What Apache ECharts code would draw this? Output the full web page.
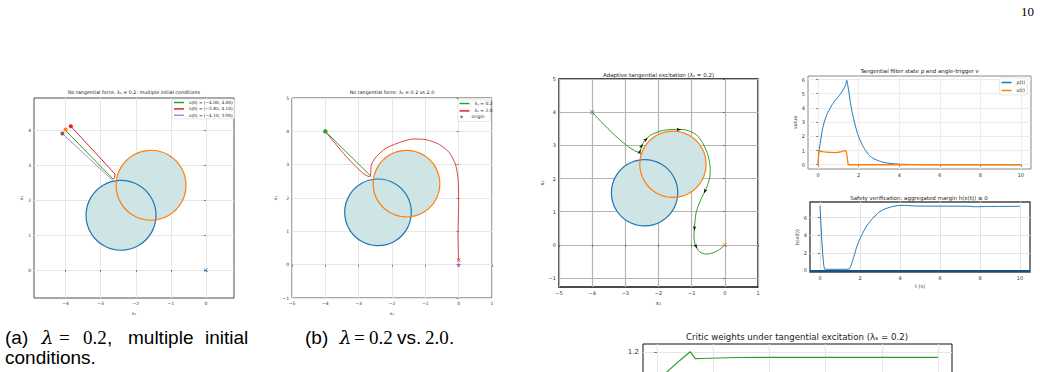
<!DOCTYPE html>
<html><head><meta charset="utf-8">
<script src="https://cdn.jsdelivr.net/npm/echarts@6/dist/echarts.min.js"></script>
<style>html,body{margin:0;padding:0;background:#fff}#c{width:1040px;height:372px}</style>
</head><body><div id="c"></div>
<script>
// ================= DATA =================
// obstacles: [cx, cy, r]
const obstacles = [[-2.42, 1.57, 1.0], [-1.565, 2.43, 1.0]];
const obstacleColors = ['#1f77b4', '#ff7f0e'];

// panel (a)
const aNames = ['x(0) = (−4.00, 4.00)', 'x(0) = (−3.85, 4.10)', 'x(0) = (−4.10, 3.90)'];
const aTrajGreen = [[-4.0, 4.0], [-2.64, 2.6]];
const aTrajRed = [[-3.85, 4.12], [-2.59, 2.75], [-2.6, 2.66], [-2.64, 2.6]];
const aTrajPurple = [[-4.09, 3.91], [-2.66, 2.57]];
const aStarts = [[-4.0, 4.03], [-3.85, 4.12], [-4.09, 3.91]];
const aOrigin = [[0, 0]];

// panel (b)
const bNames = ['λₛ = 0.2', 'λₛ = 2.0', 'origin'];
const bGreen = [[-4, 4], [-2.62, 2.64]];
const bRed = [[-4, 4], [-2.67, 2.64], [-2.62, 2.99], [-2.47, 3.24], [-2.17, 3.5], [-1.67, 3.70], [-1.37, 3.77],
  [-0.97, 3.75], [-0.57, 3.6], [-0.27, 3.35], [-0.09, 2.99], [-0.02, 2.59], [0, 1.89], [-0.02, 0.89], [-0.01, 0.39], [0, 0.14]];
const bStart = [[-4, 4]];
const bEnd = [[0, 0.13]];
const bOrigin = [[0, 0]];

// panel (c)
const cTraj = [[-4.0, 4.0], [-2.57, 2.79], [-2.52, 2.96], [-2.42, 3.14], [-2.22, 3.32], [-1.86, 3.45], [-1.46, 3.48],
  [-1.16, 3.46], [-0.86, 3.32], [-0.66, 3.06], [-0.51, 2.71], [-0.44, 2.31], [-0.46, 2.01], [-0.56, 1.70], [-0.71, 1.40],
  [-0.86, 1.0], [-0.91, 0.6], [-0.93, 0.24], [-0.89, -0.01], [-0.76, -0.21], [-0.56, -0.28], [-0.36, -0.24], [-0.16, -0.14], [0, 0]];
const cArrowIdx = [1, 2, 3, 6, 13, 16, 18];
const cStart = [[-4, 4]];
const cEnd = [[0, 0]];

// panel (d)
const dRho = [[0, 0], [0.03, 0.78], [0.1, 1.5], [0.2, 2.4], [0.3, 3.0], [0.45, 3.6], [0.6, 4.0], [0.7, 4.25], [0.85, 4.55],
  [1.03, 4.85], [1.2, 5.2], [1.3, 5.45], [1.36, 5.65], [1.41, 5.95], [1.45, 5.7], [1.53, 5.0], [1.6, 4.3], [1.69, 3.6],
  [1.8, 2.95], [1.94, 2.2], [2.05, 1.8], [2.19, 1.36], [2.35, 0.98], [2.52, 0.66], [2.75, 0.42], [3.02, 0.26], [3.3, 0.15],
  [3.69, 0.07], [4.2, 0.03], [5, 0.01], [6, 0], [10, 0]];
const dNu = [[0, 0], [0.03, 1.0], [0.1, 0.95], [0.3, 0.9], [0.5, 0.88], [0.8, 0.86], [1.0, 0.88], [1.15, 0.93], [1.3, 1.0],
  [1.36, 0.97], [1.4, 0.9], [1.48, 0], [10, 0]];

// panel (e)
const eH = [[0, 7.35], [0.23, 0.15], [0.5, 0.13], [1.0, 0.13], [1.45, 0.15], [1.52, 0.4], [1.59, 0.84], [1.7, 1.6], [1.84, 2.7],
  [2.0, 3.6], [2.17, 4.4], [2.33, 5.05], [2.51, 5.6], [2.75, 6.2], [3.0, 6.7], [3.25, 7.0], [3.51, 7.2], [3.75, 7.33],
  [4.0, 7.4], [4.3, 7.4], [4.7, 7.34], [5.5, 7.32], [6.5, 7.32], [7.5, 7.3], [7.7, 7.25], [8.5, 7.28], [10, 7.3]];

// panel (f)
const fW = [[0, 1.03], [0.36, 1.084], [0.8, 1.15], [1.18, 1.204], [1.36, 1.162], [1.6, 1.163], [2.2, 1.166], [2.85, 1.169],
  [4, 1.17], [6, 1.17], [8, 1.17], [10, 1.17]];

// tick values
const ticksA_x = [-4, -3, -2, -1, 0], ticksA_y = [0, 1, 2, 3, 4];
const ticksB_x = [-5, -4, -3, -2, -1, 0, 1], ticksB_y = [-1, 0, 1, 2, 3, 4, 5];
const ticksC_y = [-1, 0, 1, 2, 3, 4, 5];
const ticksT = [0, 2, 4, 6, 8, 10];
const ticksD_y = [0, 1, 2, 3, 4, 5, 6];
const ticksE_y = [0, 2, 4, 6];
const ticksF_y = [1.2];

// ================= CHART =================
const SANS = 'DejaVu Sans';
const xSym = 'path://M1,0L5,4L9,0L10,1L6,5L10,9L9,10L5,6L1,10L0,9L4,5L0,1Z';
const starSym = 'path://M5,0L6.2,3.6L10,3.6L7,5.9L8.1,9.5L5,7.3L1.9,9.5L3,5.9L0,3.6L3.8,3.6Z';
const tickFmt = v => (v < 0 ? '−' + Math.abs(v) : String(v));

function vAxis(o) {
  return {
    type: 'value', gridIndex: o.g, min: o.min, max: o.max,
    axisLine: { show: false },
    axisTick: { show: o.hideTicks ? false : true, length: o.tl || 2, customValues: o.ticks, lineStyle: { color: '#333', width: 0.6 } },
    axisLabel: { show: o.hideLabels ? false : true, customValues: o.ticks, fontSize: o.fs, color: '#333', margin: o.m, fontFamily: SANS, formatter: o.fmt || tickFmt },
    splitLine: { show: true, lineStyle: { color: o.sc, width: o.sw } },
    name: o.name || '', nameLocation: 'middle', nameGap: o.ng || 10,
    nameTextStyle: { fontSize: o.nfs || o.fs, color: '#333', fontFamily: SANS }
  };
}
function line(name, data, color, gi, extra) {
  return Object.assign({
    type: 'line', name, data, xAxisIndex: gi, yAxisIndex: gi, showSymbol: false, symbol: 'none',
    lineStyle: { color, width: 1 }, itemStyle: { color }, animation: false, z: 3
  }, extra || {});
}
function pts(name, data, symbol, size, color, gi, extra) {
  return Object.assign({
    type: 'scatter', name, data, xAxisIndex: gi, yAxisIndex: gi, symbol, symbolSize: size,
    itemStyle: { color, opacity: 1 }, animation: false, z: 5, silent: true
  }, extra || {});
}
function circles(gi, mode) {
  return {
    type: 'custom', xAxisIndex: gi, yAxisIndex: gi, silent: true, animation: false, z: mode === 'fill' ? 1 : 2,
    data: obstacles.map((o, i) => [o[0], o[1], o[2], i]),
    renderItem: (params, api) => {
      const c = api.coord([api.value(0), api.value(1)]);
      const s = api.size([api.value(2), api.value(2)]);
      const r = (s[0] + s[1]) / 2;
      const i = api.value(3);
      return {
        type: 'circle', shape: { cx: c[0], cy: c[1], r },
        style: mode === 'fill' ? { fill: '#cfe4e4', stroke: 'none' } : { fill: 'none', stroke: obstacleColors[i], lineWidth: 1.2 }
      };
    }
  };
}
const arrowData = cArrowIdx.map(i => {
  const p = cTraj[i], q = cTraj[i + 1];
  const ang = Math.atan2(q[1] - p[1], q[0] - p[0]) * 180 / Math.PI;
  return { value: [(p[0] + q[0]) / 2, (p[1] + q[1]) / 2], symbolRotate: ang - 90 };
});

function txt(text, x, y, size, opts) {
  opts = opts || {};
  return {
    type: 'text', x, y, z: 10, silent: true,
    style: {
      text, fill: opts.color || '#000', font: (opts.style || '') + ' ' + size + 'px ' + (opts.family || SANS),
      align: opts.align || 'left', textAlign: opts.align || 'left',
      verticalAlign: 'middle', textVerticalAlign: 'middle'
    }
  };
}

const chart = echarts.init(document.getElementById('c'), null, { renderer: 'svg', width: 1040, height: 372 });
const legendBase = {
  orient: 'vertical', icon: 'rect', itemWidth: 10, itemHeight: 1.5, selectedMode: false,
  textStyle: { fontSize: 4.5, color: '#222', fontFamily: SANS }
};

const option = {
  animation: false,
  backgroundColor: '#fff',
  grid: [
    { left: 34, top: 98, width: 200, height: 200, show: true, borderColor: '#222', borderWidth: 0.8 },
    { left: 292, top: 98, width: 200, height: 200, show: true, borderColor: '#222', borderWidth: 0.8 },
    { left: 559, top: 79, width: 199, height: 208, show: true, borderColor: '#111', borderWidth: 1.4 },
    { left: 808, top: 76, width: 223, height: 93, show: true, borderColor: '#888', borderWidth: 1 },
    { left: 810, top: 202, width: 220, height: 70, show: true, borderColor: '#444', borderWidth: 1.4 },
    { left: 643, top: 344, width: 309, height: 30, show: true, borderColor: '#111', borderWidth: 1, outerBoundsMode: 'none' }
  ],
  xAxis: [
    vAxis({ g: 0, min: -4.9, max: 0.8, ticks: ticksA_x, fs: 4.5, m: 3, sc: '#e6e6e6', sw: 1, name: 'x₁', ng: 12, nfs: 4.5 }),
    vAxis({ g: 1, min: -5, max: 1, ticks: ticksB_x, fs: 4.5, m: 3, sc: '#e6e6e6', sw: 1, name: 'x₁', ng: 12, nfs: 4.5 }),
    vAxis({ g: 2, min: -5, max: 1, ticks: ticksB_x, fs: 5, m: 3, sc: '#b4b4b4', sw: 1.2, name: 'x₁', ng: 11, nfs: 5.5 }),
    vAxis({ g: 3, min: -0.5, max: 10.5, ticks: ticksT, fs: 5, m: 3, sc: '#ececec', sw: 1 }),
    vAxis({ g: 4, min: -0.5, max: 10.5, ticks: ticksT, fs: 5, m: 3, sc: '#e4e4e4', sw: 1, name: 't (s)', ng: 11.5, nfs: 5 }),
    vAxis({ g: 5, min: -0.5, max: 10.5, ticks: ticksT, fs: 7, m: 3, sc: '#e6e6e6', sw: 1, hideLabels: true, hideTicks: true })
  ],
  yAxis: [
    vAxis({ g: 0, min: -0.8, max: 4.93, ticks: ticksA_y, fs: 4.5, m: 3, sc: '#e6e6e6', sw: 1, name: 'x₂', ng: 10, nfs: 4.5 }),
    vAxis({ g: 1, min: -1, max: 5, ticks: ticksB_y, fs: 4.5, m: 3, sc: '#e6e6e6', sw: 1, name: 'x₂', ng: 12, nfs: 4.5 }),
    vAxis({ g: 2, min: -1.27, max: 5, ticks: ticksC_y, fs: 5, m: 3, sc: '#b4b4b4', sw: 1.2, name: 'x₂', ng: 14, nfs: 5.5 }),
    vAxis({ g: 3, min: -0.3, max: 6.25, ticks: ticksD_y, fs: 5, m: 3, sc: '#ececec', sw: 1, name: 'value', ng: 11, nfs: 5 }),
    vAxis({ g: 4, min: -0.18, max: 7.79, ticks: ticksE_y, fs: 5, m: 3, sc: '#e4e4e4', sw: 1, name: 'h(x(t))', ng: 10, nfs: 5 }),
    vAxis({ g: 5, min: 1.07, max: 1.25, ticks: ticksF_y, fs: 7, m: 4, sc: '#e6e6e6', sw: 1, tl: 3, fmt: v => v.toFixed(1) })
  ],
  legend: [
    Object.assign({}, legendBase, {
      left: 172, top: 99, itemGap: 2.4, padding: [1.5, 2, 1.5, 2], data: aNames,
      backgroundColor: 'rgba(255,255,255,0.85)', borderColor: '#d0d0d0', borderWidth: 0.5, borderRadius: 1.5,
      textStyle: { fontSize: 4.3, color: '#222', fontFamily: 'DejaVu Serif' }
    }),
    Object.assign({}, legendBase, { left: 459.5, top: 101, itemGap: 2.4, padding: 0, data: [bNames[0], bNames[1]] }),
    Object.assign({}, legendBase, { left: 459.5, top: 114.3, itemHeight: 4, padding: 0, data: [{ name: bNames[2], icon: starSym }] }),
    Object.assign({}, legendBase, {
      left: 999.5, top: 78, itemGap: 3, padding: [2, 2, 2, 2], data: ['ρ(t)', 'ν(t)'],
      backgroundColor: 'rgba(255,255,255,0.85)', borderColor: '#d0d0d0', borderWidth: 0.5, borderRadius: 1.5,
      textStyle: { fontSize: 4.8, color: '#222', fontFamily: SANS }
    })
  ],
  series: [
    // (a)
    circles(0, 'fill'), circles(0, 'stroke'),
    line(aNames[0], aTrajGreen, '#2ca02c', 0),
    line(aNames[1], aTrajRed, '#d62728', 0),
    line(aNames[2], aTrajPurple, '#a48ad0', 0),
    pts('a-start-0', [aStarts[0]], 'circle', 4, '#ff7f0e', 0),
    pts('a-start-1', [aStarts[1]], 'circle', 4, '#d62728', 0),
    pts('a-start-2', [aStarts[2]], 'circle', 4, '#8c564b', 0),
    pts('a-origin', aOrigin, xSym, 4, '#1f77b4', 0),
    // (b)
    circles(1, 'fill'), circles(1, 'stroke'),
    line(bNames[0], bGreen, '#2ca02c', 1),
    line(bNames[1], bRed, '#d62728', 1, { smooth: 0.25, lineStyle: { color: '#d62728', width: 1, opacity: 0.85 } }),
    pts('b-start', bStart, 'circle', 4.5, '#2ca02c', 1),
    pts('b-end', bEnd, xSym, 4, '#d62728', 1),
    pts(bNames[2], bOrigin, starSym, 5, '#9467bd', 1),
    // (c)
    circles(2, 'fill'), circles(2, 'stroke'),
    line('c-traj', cTraj, '#2ca02c', 2, { smooth: 0.25 }),
    pts('c-arrows', arrowData, 'arrow', [2.5, 5], '#111', 2),
    pts('c-start', cStart, xSym, 4.5, '#1f77b4', 2),
    pts('c-end', cEnd, xSym, 4.5, '#ff7f0e', 2),
    // (d)
    line('ρ(t)', dRho, '#1f77b4', 3, { smooth: 0.2 }),
    line('ν(t)', dNu, '#ff7f0e', 3, { lineStyle: { color: '#ff7f0e', width: 1.3 } }),
    // (e)
    line('h', eH, '#1f77b4', 4, {
      smooth: 0.2,
      markLine: { silent: true, symbol: 'none', label: { show: false }, lineStyle: { color: '#1d4f7c', width: 1.8, type: 'solid' }, data: [{ yAxis: 0 }] }
    }),
    // (f)
    line('w', fW, '#2ca02c', 5, { lineStyle: { color: '#2ca02c', width: 1.2 } })
  ],
  graphic: [
    { type: 'rect', shape: { x: 457.7, y: 100, width: 32.5, height: 21.5, r: 1.5 }, z: 3, silent: true,
      style: { fill: 'rgba(255,255,255,0.85)', stroke: '#d0d0d0', lineWidth: 0.5 } },
    txt('No tangential force, λₛ = 0.2: multiple initial conditions', 134, 92.3, 4.8, { align: 'center', color: '#222' }),
    txt('No tangential force: λₛ = 0.2 vs 2.0', 392, 92.3, 4.8, { align: 'center', color: '#222' }),
    txt('Adaptive tangential excitation (λₛ = 0.2)', 658.5, 75, 5.5, { align: 'center', color: '#222' }),
    txt('Tangential filter state ρ and angle-trigger ν', 919.5, 70.5, 5.5, { align: 'center', color: '#222' }),
    txt('Safety verification: aggregated margin h(x(t)) ≥ 0', 919, 198.3, 5.5, { align: 'center', color: '#222' }),
    txt('Critic weights under tangential excitation (λₛ = 0.2)', 797, 336.7, 8.6, { align: 'center', color: '#222' }),
    txt('10', 1021, 11.7, 13, { family: 'Liberation Serif' }),
    // caption (a)
    txt('(a)', 5, 337, 19, { family: 'Liberation Sans' }),
    txt('λ', 41.5, 337, 19, { family: 'DejaVu Serif', style: 'italic' }),
    txt('=', 59, 337, 19, { family: 'Liberation Serif' }),
    txt('0.2', 83, 337, 19, { family: 'Liberation Serif' }),
    txt(',', 107, 337, 19, { family: 'Liberation Sans' }),
    txt('multiple', 128, 337, 19, { family: 'Liberation Sans' }),
    txt('initial', 205, 337, 19, { family: 'Liberation Sans' }),
    txt('conditions.', 5, 357, 19, { family: 'Liberation Sans' }),
    // caption (b)
    txt('(b)', 305, 337, 19, { family: 'Liberation Sans' }),
    txt('λ', 339.5, 337, 19, { family: 'DejaVu Serif', style: 'italic' }),
    txt('=', 354, 337, 19, { family: 'Liberation Serif' }),
    txt('0.2', 369, 337, 19, { family: 'Liberation Serif' }),
    txt('vs.', 397, 337, 19, { family: 'Liberation Sans' }),
    txt('2.0', 425, 337, 19, { family: 'Liberation Serif' }),
    txt('.', 449, 337, 19, { family: 'Liberation Sans' })
  ]
};
chart.setOption(option);
</script>
</body></html>
